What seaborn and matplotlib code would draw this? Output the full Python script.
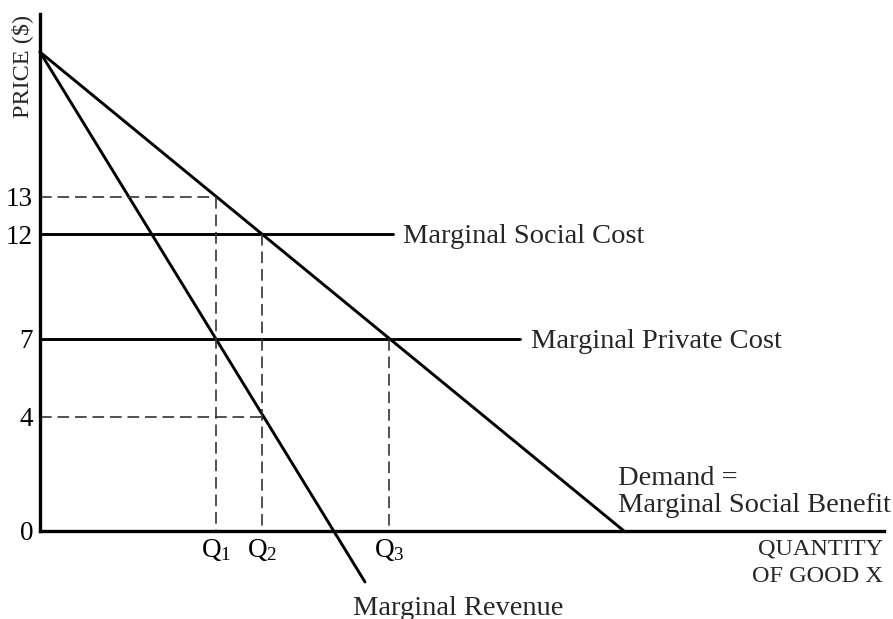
import seaborn as sns
import matplotlib.pyplot as plt
import pandas as pd

sns.set_theme(style="white")
plt.rcParams['font.family'] = ['Liberation Serif', 'DejaVu Serif']
plt.rcParams['mathtext.fontset'] = 'custom'
plt.rcParams['mathtext.rm'] = 'Liberation Serif'
plt.rcParams['mathtext.default'] = 'regular'

# schematic diagram units (the drawing is not to scale, so price levels have their own positions)
price_labels = ["0", "4", "7", "12", "13"]
price_pos = [0.0, 11.4, 19.2, 29.7, 33.4]
q_labels = ["Q$_1$", "Q$_2$", "Q$_3$"]
q_pos = [17.6, 22.2, 34.9]

top_price = 47.9          # where demand and MR start on the price axis
demand_end_q = 58.4       # demand hits the quantity axis
mr_end = (32.5, -5.1)     # MR runs past the axis
msc_end_q = 35.3
mpc_end_q = 48.0
y_axis_top = 51.7
x_axis_end = 84.4

demand = pd.DataFrame({'q': [0, demand_end_q], 'p': [top_price, 0]})
mr = pd.DataFrame({'q': [0, mr_end[0]], 'p': [top_price, mr_end[1]]})
msc = pd.DataFrame({'q': [0, msc_end_q], 'p': [price_pos[3], price_pos[3]]})
mpc = pd.DataFrame({'q': [0, mpc_end_q], 'p': [price_pos[2], price_pos[2]]})

fig = plt.figure(figsize=(8.93, 6.19), dpi=100)
ax = fig.add_axes([0, 0, 1, 1])

for df in [demand, mr, msc, mpc]:
    sns.lineplot(data=df, x='q', y='p', ax=ax, color='black', lw=2.1,
                 estimator=None, sort=False)

# dashed guide lines
guides = [
    ([0, q_pos[0]], [price_pos[4], price_pos[4]]),
    ([q_pos[0], q_pos[0]], [price_pos[4], 0]),
    ([0, q_pos[1]], [price_pos[1], price_pos[1]]),
    ([q_pos[1], q_pos[1]], [price_pos[3], 0]),
    ([q_pos[2], q_pos[2]], [price_pos[2], 0]),
]
for gx, gy in guides:
    ax.plot(gx, gy, color='#333333', lw=1.2, dashes=(7, 3.5))

ax.set_xlim(-4.0, 85.3)
ax.set_ylim(-8.8, 53.1)

for s in ['top', 'right']:
    ax.spines[s].set_visible(False)
ax.spines['left'].set_position(('data', 0))
ax.spines['bottom'].set_position(('data', 0))
ax.spines['left'].set_bounds(0, y_axis_top)
ax.spines['bottom'].set_bounds(0, x_axis_end)
for s in ['left', 'bottom']:
    ax.spines[s].set_color('black')
    ax.spines[s].set_linewidth(2.4)

ax.set_yticks(price_pos)
ax.set_yticklabels(price_labels)
ax.set_xticks(q_pos)
ax.set_xticklabels(q_labels)
ax.tick_params(axis='y', length=0, pad=5, labelsize=19.5, colors='black')
ax.tick_params(axis='x', length=0, pad=4, labelsize=19.5, colors='black')
ax.set_xlabel('')
ax.set_ylabel('')

ax.text(-1.8, 51.6, "PRICE ($)", rotation=90, ha='center', va='top', fontsize=17.5)
ax.text(84.3, -2.4, "QUANTITY", ha='right', va='baseline', fontsize=17.5)
ax.text(84.3, -5.07, "OF GOOD X", ha='right', va='baseline', fontsize=17.5)

ax.text(36.3, price_pos[3] - 0.9, "Marginal Social Cost", ha='left', va='baseline', fontsize=20.5)
ax.text(49.1, price_pos[2] - 0.9, "Marginal Private Cost", ha='left', va='baseline', fontsize=20.5)
ax.text(57.8, 4.6, "Demand =", ha='left', va='baseline', fontsize=20.5)
ax.text(57.8, 1.93, "Marginal Social Benefit", ha='left', va='baseline', fontsize=20.5)
ax.text(31.3, -8.4, "Marginal Revenue", ha='left', va='baseline', fontsize=20.5)

fig.savefig("out.png", dpi=100)
